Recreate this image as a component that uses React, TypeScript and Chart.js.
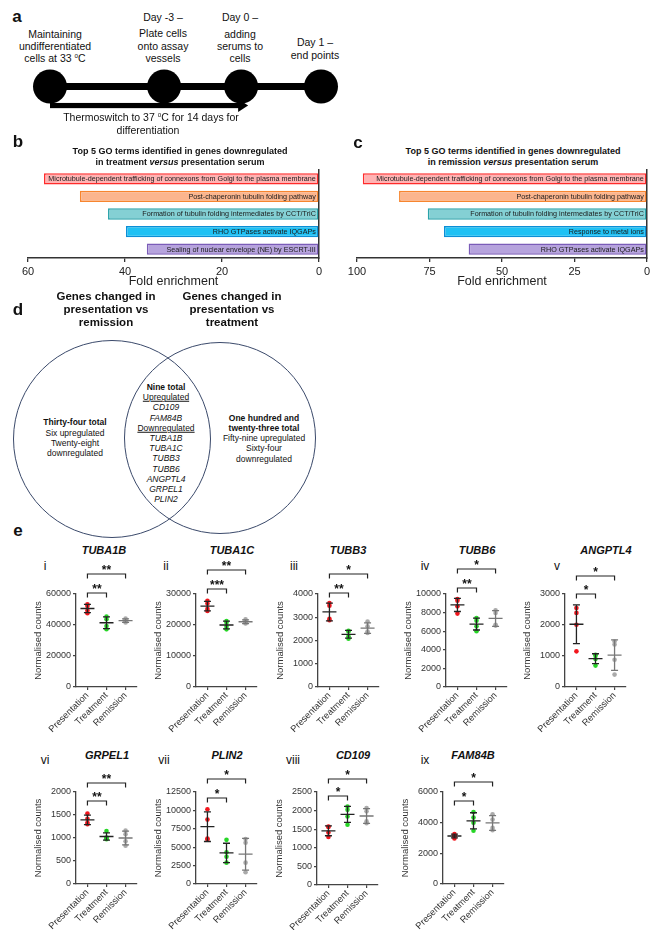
import React, { useEffect, useRef } from "react";
import { Chart, registerables } from "chart.js";
Chart.register(...registerables);

const FONT = "'Liberation Sans', Arial, Helvetica, sans-serif";

// ---------- Panel a: timeline (schematic stage positions) ----------
const timelinePos = [0, 4, 6.7, 9.5];

// ---------- Panels b / c: GO enrichment ----------
const goTermsB = [
  "Microtubule-dependent trafficking of connexons from Golgi to the plasma membrane",
  "Post-chaperonin tubulin folding pathway",
  "Formation of tubulin folding intermediates by CCT/TriC",
  "RHO GTPases activate IQGAPs",
  "Sealing of nuclear envelope (NE) by ESCRT-III",
];
const foldB = [56.7, 49.3, 43.5, 39.8, 35.5];
const goTermsC = [
  "Microtubule-dependent trafficking of connexons from Golgi to the plasma membrane",
  "Post-chaperonin tubulin folding pathway",
  "Formation of tubulin folding intermediates by CCT/TriC",
  "Response to metal ions",
  "RHO GTPases activate IQGAPs",
];
const foldC = [98, 85.5, 75.6, 70, 61.5];
const goFill = ["#ffb3b3", "#fbb58e", "#84d0d4", "#1fc1f4", "#b6a3dd"];
const goBorder = ["#ff2b2b", "#f7852f", "#2aa3aa", "#0b8fd6", "#7b5cb8"];

// ---------- Panel e: normalised counts ----------
const groupNames = ["Presentation", "Treatment", "Remission"];
const geneNames = ["TUBA1B", "TUBA1C", "TUBB3", "TUBB6", "ANGPTL4", "GRPEL1", "PLIN2", "CD109", "FAM84B"];
const panelNumerals = ["i", "ii", "iii", "iv", "v", "vi", "vii", "viii", "ix"];
const TUBA1B = [[53400, 52300, 49300, 47600], [45400, 43700, 39400, 37300], [44100, 43300, 42200, 41600]];
const TUBA1C = [[27800, 26900, 25200, 24500], [21300, 20700, 19400, 18600], [21800, 21200, 20700, 20500]];
const TUBB3 = [[3610, 3500, 2930, 2870], [2420, 2390, 2180, 2080], [2820, 2610, 2390, 2320]];
const TUBB6 = [[9460, 9280, 8670, 7890], [7420, 7130, 6520, 5990], [8240, 7960, 6700, 6600]];
const ANGPTL4 = [[2550, 2390, 2010, 1150], [1040, 1020, 900, 690], [1470, 1370, 880, 400]];
const GRPEL1 = [[1530, 1420, 1330, 1300], [1150, 1010, 995, 975], [1160, 1080, 930, 830]];
const PLIN2 = [[10150, 8750, 6180, 6050], [6000, 4300, 3700, 2900], [6100, 5600, 2900, 1600]];
const CD109 = [[1570, 1560, 1410, 1290], [2110, 2020, 1840, 1620], [2070, 1980, 1710, 1660]];
const FAM84B = [[3250, 3180, 3120, 2970], [4700, 4330, 3990, 3470], [4550, 4200, 3660, 3510]];
const geneData = [TUBA1B, TUBA1C, TUBB3, TUBB6, ANGPTL4, GRPEL1, PLIN2, CD109, FAM84B];
const yMax = [60000, 30000, 4000, 10000, 3000, 2000, 12500, 2500, 6000];
const yStep = [20000, 10000, 1000, 2000, 1000, 500, 2500, 500, 2000];
const sigInner = ["**", "***", "**", "**", "*", "**", "*", "*", "*"];
const sigOuter = ["**", "**", "*", "*", "*", "**", "*", "*", "*"];

// layout (pixels)
const dotLayout = [
  { axisX: 76, top: 594, plotH: 93, titleX: 104, numX: 45, inOff: 1, outOff: 20 },
  { axisX: 196, top: 594, plotH: 93, titleX: 232, numX: 166, inOff: 5, outOff: 24 },
  { axisX: 318, top: 594, plotH: 93, titleX: 348, numX: 294, inOff: 1, outOff: 20 },
  { axisX: 446, top: 594, plotH: 93, titleX: 477, numX: 425, inOff: 6, outOff: 25 },
  { axisX: 565, top: 594, plotH: 93, titleX: 606, numX: 557, inOff: 0, outOff: 18 },
  { axisX: 76, top: 792, plotH: 92, titleX: 107, numX: 45, inOff: -9, outOff: 9 },
  { axisX: 196, top: 792, plotH: 92, titleX: 227, numX: 164, inOff: -6, outOff: 13 },
  { axisX: 317, top: 792, plotH: 93, titleX: 353, numX: 293, inOff: -4, outOff: 13 },
  { axisX: 443, top: 792, plotH: 92, titleX: 473, numX: 425, inOff: -9, outOff: 10 },
];
const pointColors = ["#f2161d", "#27d627", "#aaaaaa"];
const errColors = ["#222222", "#222222", "#777777"];

function T(props: any) {
  const { x, y, s = 10, b = false, i = false, u = false, a = "center", c = "#111", children } = props;
  const tx = a === "center" ? "-50%" : a === "right" ? "-100%" : "0";
  return (
    <div
      style={{
        position: "absolute", left: x, top: y, transform: `translate(${tx},-50%)`,
        fontSize: s, fontWeight: b ? "bold" : "normal", fontStyle: i ? "italic" : "normal",
        textDecoration: u ? "underline" : "none", whiteSpace: "nowrap", lineHeight: 1, color: c,
      }}
    >
      {children}
    </div>
  );
}

const mean = (v: number[]) => v.reduce((a, b) => a + b, 0) / v.length;
const sd = (v: number[]) => {
  const m = mean(v);
  return Math.sqrt(v.reduce((a, b) => a + (b - m) * (b - m), 0) / (v.length - 1));
};

const decorPlugin = {
  id: "dotDecor",
  afterDatasetsDraw(chart: any, _a: any, opts: any) {
    const { ctx, chartArea } = chart;
    const x = chart.scales.x, y = chart.scales.y;
    const groups: number[][] = opts.groups;
    ctx.save();
    groups.forEach((vals, g) => {
      const m = mean(vals), s = sd(vals);
      const px = x.getPixelForValue(g);
      const pm = y.getPixelForValue(m), pt = y.getPixelForValue(m + s), pb = y.getPixelForValue(m - s);
      ctx.strokeStyle = errColors[g];
      ctx.lineWidth = 1.3;
      ctx.beginPath();
      ctx.moveTo(px - 7, pm); ctx.lineTo(px + 7, pm);
      ctx.moveTo(px, pt); ctx.lineTo(px, pb);
      ctx.moveTo(px - 3.5, pt); ctx.lineTo(px + 3.5, pt);
      ctx.moveTo(px - 3.5, pb); ctx.lineTo(px + 3.5, pb);
      ctx.stroke();
    });
    const bracket = (g1: number, off: number, label: string) => {
      const x0 = x.getPixelForValue(0), x1 = x.getPixelForValue(g1);
      const yb = chartArea.top - off;
      ctx.strokeStyle = "#222";
      ctx.lineWidth = 1.2;
      ctx.beginPath();
      ctx.moveTo(x0, yb + 4.5); ctx.lineTo(x0, yb); ctx.lineTo(x1, yb); ctx.lineTo(x1, yb + 4.5);
      ctx.stroke();
      ctx.fillStyle = "#111";
      ctx.font = `bold 12px ${FONT}`;
      ctx.textAlign = "center";
      ctx.textBaseline = "alphabetic";
      ctx.fillText(label, (x0 + x1) / 2, yb - 0.5);
    };
    bracket(1, opts.inOff, opts.inner);
    bracket(2, opts.outOff, opts.outer);
    ctx.restore();
  },
};

const Y_W = 46, PAD_T = 40, X_H = 55, PAD_R = 10, PLOT_W = 61;

function DotPlot({ idx }: { idx: number }) {
  const ref = useRef<HTMLCanvasElement>(null);
  const L = dotLayout[idx];
  const w = Y_W + PLOT_W + PAD_R, h = PAD_T + L.plotH + X_H;
  useEffect(() => {
    const data = geneData[idx];
    const chart = new Chart(ref.current as HTMLCanvasElement, {
      type: "scatter",
      data: {
        datasets: data.map((vals, g) => ({
          data: vals.map((v) => ({ x: g, y: v })),
          pointRadius: 2.3,
          pointHoverRadius: 2.3,
          pointBackgroundColor: pointColors[g],
          pointBorderWidth: 0,
        })),
      },
      options: {
        responsive: false,
        animation: false,
        events: [],
        layout: { padding: { top: PAD_T, right: PAD_R, left: 0, bottom: 0 } },
        plugins: {
          legend: { display: false },
          tooltip: { enabled: false },
          dotDecor: { groups: data, inner: sigInner[idx], outer: sigOuter[idx], inOff: L.inOff, outOff: L.outOff },
        } as any,
        scales: {
          x: {
            type: "linear", min: -0.6, max: 2.6,
            afterBuildTicks: (s: any) => { s.ticks = [0, 1, 2].map((v) => ({ value: v })); },
            ticks: {
              callback: (v: any) => groupNames[v as number] ?? "",
              maxRotation: 45, minRotation: 45, autoSkip: false,
              font: { family: FONT, size: 9.3 }, color: "#333", padding: 0,
            },
            grid: { drawOnChartArea: false, tickLength: 3, color: "#444", lineWidth: 1.2 },
            border: { color: "#444", width: 1.3 },
            afterFit: (s: any) => { s.height = X_H; s.paddingLeft = 0; s.paddingRight = 0; },
          },
          y: {
            min: 0, max: yMax[idx],
            ticks: {
              stepSize: yStep[idx], font: { family: FONT, size: 9 }, color: "#333", padding: 2,
              callback: (v: any) => String(v),
            },
            grid: { drawOnChartArea: false, tickLength: 3, color: "#444", lineWidth: 1.2 },
            border: { color: "#444", width: 1.3 },
            title: { display: true, text: "Normalised counts", font: { family: FONT, size: 9.5 }, color: "#333", padding: { top: 2.3, bottom: 0 } },
            afterFit: (s: any) => { s.width = Y_W; s.paddingTop = 0; s.paddingBottom = 0; },
          },
        },
      } as any,
      plugins: [decorPlugin as any],
    });
    return () => chart.destroy();
  }, []);
  return (
    <canvas ref={ref} width={w} height={h}
      style={{ position: "absolute", left: L.axisX - Y_W, top: L.top - PAD_T, width: w, height: h }} />
  );
}

const barLabelPlugin = {
  id: "barLabels",
  afterDatasetsDraw(chart: any) {
    const { ctx } = chart;
    const meta = chart.getDatasetMeta(0);
    ctx.save();
    ctx.font = `7.2px ${FONT}`;
    ctx.fillStyle = "#1a1a1a";
    ctx.textAlign = "right";
    ctx.textBaseline = "middle";
    meta.data.forEach((bar: any, i: number) => {
      const { base, y } = bar.getProps(["base", "y"], true);
      ctx.fillText(chart.data.labels[i], base - 2.5, y + 0.5);
    });
    ctx.restore();
  },
};

function GoChart(props: any) {
  const { labels, values, max, step, left, top, width, padL, padR } = props;
  const ref = useRef<HTMLCanvasElement>(null);
  const h = 125;
  useEffect(() => {
    const chart = new Chart(ref.current as HTMLCanvasElement, {
      type: "bar",
      data: {
        labels,
        datasets: [{
          data: values, backgroundColor: goFill, borderColor: goBorder, borderWidth: 1.5,
          borderSkipped: false, categoryPercentage: 1, barPercentage: 0.64,
        }],
      },
      options: {
        indexAxis: "y",
        responsive: false,
        animation: false,
        events: [],
        layout: { padding: { left: padL, right: padR, top: 5, bottom: 0 } },
        plugins: { legend: { display: false }, tooltip: { enabled: false } },
        scales: {
          x: {
            reverse: true, min: 0, max,
            ticks: { stepSize: step, font: { family: FONT, size: 11 }, color: "#222", padding: 3 },
            grid: { drawOnChartArea: false, tickLength: 4, color: "#333", lineWidth: 1.3 },
            border: { color: "#333", width: 1.5 },
            title: { display: true, text: "Fold enrichment", font: { family: FONT, size: 12.5 }, color: "#222", padding: { top: 0, bottom: 0.5 } },
            afterFit: (s: any) => { s.height = 32; },
          },
          y: {
            position: "right",
            ticks: { display: false },
            grid: { display: false },
            border: { color: "#333", width: 1.5 },
            afterFit: (s: any) => { s.width = 0; },
          },
        },
      } as any,
      plugins: [barLabelPlugin as any],
    });
    return () => chart.destroy();
  }, []);
  return <canvas ref={ref} width={width} height={h} style={{ position: "absolute", left, top, width, height: h }} />;
}

const arrowPlugin = {
  id: "arrow",
  afterDatasetsDraw(chart: any) {
    const { ctx } = chart;
    const x = chart.scales.x, y = chart.scales.y;
    const yy = y.getPixelForValue(0) + 19;
    const x0 = x.getPixelForValue(timelinePos[0]);
    const x1 = x.getPixelForValue(timelinePos[2]) + 7;
    ctx.save();
    ctx.fillStyle = "#000";
    ctx.fillRect(x0, yy - 2.6, x1 - 9 - x0, 5.2);
    ctx.beginPath();
    ctx.moveTo(x1 - 10, yy - 6.5); ctx.lineTo(x1, yy); ctx.lineTo(x1 - 10, yy + 6.5); ctx.closePath();
    ctx.fill();
    ctx.restore();
  },
};

function Timeline() {
  const ref = useRef<HTMLCanvasElement>(null);
  useEffect(() => {
    const chart = new Chart(ref.current as HTMLCanvasElement, {
      type: "scatter",
      data: {
        datasets: [{
          data: timelinePos.map((p) => ({ x: p, y: 0 })),
          showLine: true, borderColor: "#000", borderWidth: 7,
          pointRadius: 17, pointHoverRadius: 17, pointBackgroundColor: "#000", pointBorderWidth: 0, clip: false,
        } as any],
      },
      options: {
        responsive: false, animation: false, events: [],
        layout: { padding: { left: 50, right: 39, top: 0, bottom: 0 } },
        plugins: { legend: { display: false }, tooltip: { enabled: false } },
        scales: {
          x: { type: "linear", display: false, min: 0, max: 9.5 },
          y: { display: false, min: -1.2, max: 1 },
        },
      } as any,
      plugins: [arrowPlugin as any],
    });
    return () => chart.destroy();
  }, []);
  return <canvas ref={ref} width={360} height={55} style={{ position: "absolute", left: 0, top: 60, width: 360, height: 55 }} />;
}

const Deg = () => (
  <span><span style={{ fontSize: "0.6em", position: "relative", top: -4 }}>o</span>C</span>
);

export default function App() {
  const vennLeft = { cx: 112, cy: 439, r: 99 };
  const vennRight = { cx: 220, cy: 438, r: 96 };
  const circle = (c: any) => (
    <div style={{
      position: "absolute", left: c.cx - c.r, top: c.cy - c.r, width: 2 * c.r, height: 2 * c.r,
      border: "1.3px solid #3b4a6b", borderRadius: "50%", boxSizing: "border-box",
    }} />
  );
  const centreList: [string, boolean, boolean, boolean][] = [
    ["Nine total", true, false, false],
    ["Upregulated", false, false, true],
    ["CD109", false, true, false],
    ["FAM84B", false, true, false],
    ["Downregulated", false, false, true],
    ["TUBA1B", false, true, false],
    ["TUBA1C", false, true, false],
    ["TUBB3", false, true, false],
    ["TUBB6", false, true, false],
    ["ANGPTL4", false, true, false],
    ["GRPEL1", false, true, false],
    ["PLIN2", false, true, false],
  ];
  return (
    <div style={{ position: "absolute", left: 0, top: 0, width: 655, height: 930, background: "#fff", fontFamily: FONT, color: "#111", overflow: "hidden" }}>
      {/* Panel a */}
      <T x={17} y={16} s={17} b>a</T>
      <T x={55} y={34} s={10.5}>Maintaining</T>
      <T x={55} y={46} s={10.5}>undifferentiated</T>
      <T x={55} y={58} s={10.5}>cells at 33 <Deg /></T>
      <T x={163} y={17} s={10.5}>Day -3 –</T>
      <T x={163} y={33} s={10.5}>Plate cells</T>
      <T x={163} y={46} s={10.5}>onto assay</T>
      <T x={163} y={58} s={10.5}>vessels</T>
      <T x={240} y={17} s={10.5}>Day 0 –</T>
      <T x={240} y={34} s={10.5}>adding</T>
      <T x={240} y={46} s={10.5}>serums to</T>
      <T x={240} y={58} s={10.5}>cells</T>
      <T x={315} y={42} s={10.5}>Day 1 –</T>
      <T x={315} y={55} s={10.5}>end points</T>
      <Timeline />
      <T x={151} y={117} s={10.5}>Thermoswitch to 37 <Deg /> for 14 days for</T>
      <T x={148} y={130} s={10.5}>differentiation</T>

      {/* Panel b */}
      <T x={18} y={141} s={17} b>b</T>
      <T x={180} y={151} s={9} b>Top 5 GO terms identified in genes downregulated</T>
      <T x={180} y={162} s={9} b>in treatment <i>versus</i> presentation serum</T>
      <GoChart labels={goTermsB} values={foldB} max={60} step={20} left={15} top={165} width={314} padL={13} padR={10} />

      {/* Panel c */}
      <T x={358} y={142} s={17} b>c</T>
      <T x={513} y={151} s={9} b>Top 5 GO terms identified in genes downregulated</T>
      <T x={513} y={162} s={9} b>in remission <i>versus</i> presentation serum</T>
      <GoChart labels={goTermsC} values={foldC} max={100} step={25} left={344} top={165} width={311} padL={13} padR={8} />

      {/* Panel d */}
      <T x={18} y={309} s={17} b>d</T>
      <T x={106} y={297} s={11.5} b>Genes changed in</T>
      <T x={106} y={310} s={11.5} b>presentation vs</T>
      <T x={106} y={323} s={11.5} b>remission</T>
      <T x={232} y={297} s={11.5} b>Genes changed in</T>
      <T x={232} y={310} s={11.5} b>presentation vs</T>
      <T x={232} y={323} s={11.5} b>treatment</T>
      {circle(vennLeft)}
      {circle(vennRight)}
      <T x={75} y={422} s={8.5} b>Thirty-four total</T>
      <T x={75} y={433} s={8.5}>Six upregulated</T>
      <T x={75} y={443} s={8.5}>Twenty-eight</T>
      <T x={75} y={453} s={8.5}>downregulated</T>
      {centreList.map(([t, b, i, u], k) => (
        <T key={t} x={166} y={387 + k * 10.2} s={8.5} b={b} i={i} u={u}>{t}</T>
      ))}
      <T x={264} y={418} s={8.5} b>One hundred and</T>
      <T x={264} y={428} s={8.5} b>twenty-three total</T>
      <T x={264} y={438} s={8.5}>Fifty-nine upregulated</T>
      <T x={264} y={448} s={8.5}>Sixty-four</T>
      <T x={264} y={459} s={8.5}>downregulated</T>

      {/* Panel e */}
      <T x={18} y={530} s={17} b>e</T>
      {geneNames.map((g, k) => {
        const L = dotLayout[k];
        const row2 = k >= 5;
        return (
          <React.Fragment key={g}>
            <T x={L.titleX} y={row2 ? 755 : 550} s={11} b i>{g}</T>
            <T x={L.numX} y={row2 ? 760 : 566} s={12}>{panelNumerals[k]}</T>
            <DotPlot idx={k} />
          </React.Fragment>
        );
      })}
    </div>
  );
}
